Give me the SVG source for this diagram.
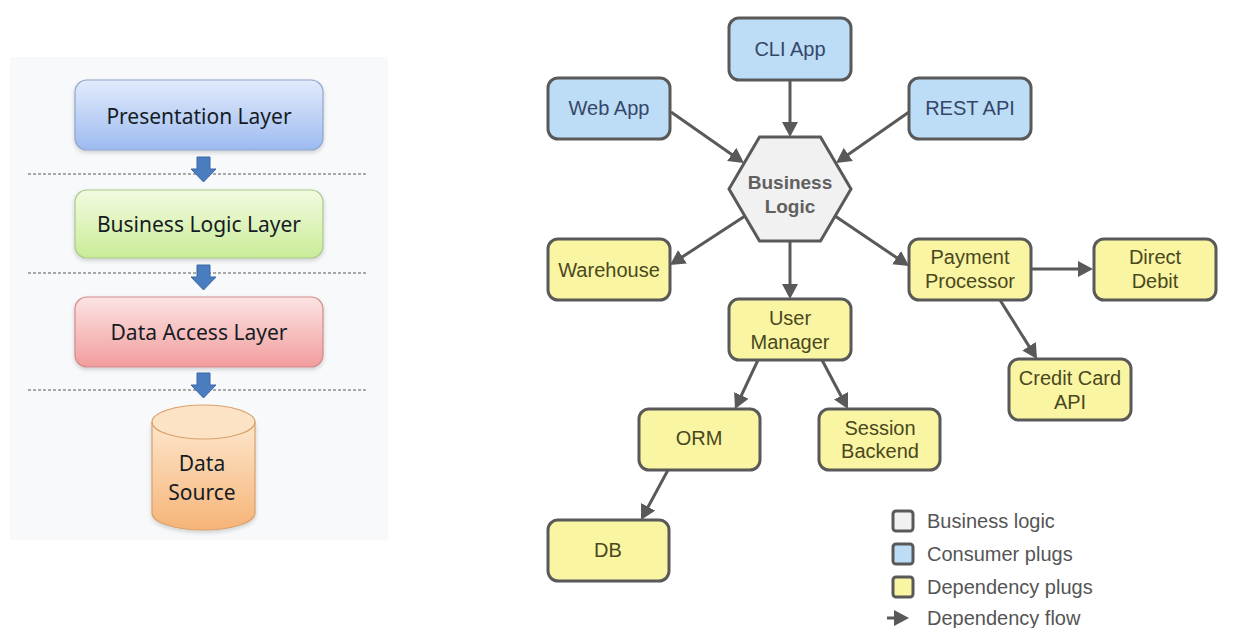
<svg xmlns="http://www.w3.org/2000/svg" width="1248" height="628" viewBox="0 0 1248 628">
  <defs>
    <linearGradient id="gBlue" x1="0" y1="0" x2="0" y2="1">
      <stop offset="0" stop-color="#e2ebfc"/>
      <stop offset="1" stop-color="#9dbbf0"/>
    </linearGradient>
    <linearGradient id="gGreen" x1="0" y1="0" x2="0" y2="1">
      <stop offset="0" stop-color="#f3fbe0"/>
      <stop offset="1" stop-color="#c9ec98"/>
    </linearGradient>
    <linearGradient id="gRed" x1="0" y1="0" x2="0" y2="1">
      <stop offset="0" stop-color="#fce4e4"/>
      <stop offset="1" stop-color="#f29c9c"/>
    </linearGradient>
    <linearGradient id="gOrange" x1="0" y1="0" x2="0" y2="1">
      <stop offset="0" stop-color="#fde6cc"/>
      <stop offset="1" stop-color="#f6b477"/>
    </linearGradient>
    <filter id="soft" x="-10%" y="-10%" width="120%" height="130%">
      <feDropShadow dx="0" dy="2" stdDeviation="2" flood-color="#000" flood-opacity="0.18"/>
    </filter>
    <marker id="head" viewBox="0 0 15 16" refX="11" refY="8" markerWidth="15" markerHeight="16" markerUnits="userSpaceOnUse" orient="auto">
      <path d="M0,0 L15,8 L0,16 z" fill="#595959"/>
    </marker>
  </defs>
  <style>
    .layer { stroke-width: 1.2; }
    .ltxt { font-family: "Noto Sans", "Open Sans", sans-serif; font-size: 21px; fill: #161c24; text-anchor: middle; }
    .sep { stroke: #8c8c8c; stroke-width: 1.5; stroke-dasharray: 3 2; }
    .blk { fill: #4a7cc0; stroke: #3a66a3; stroke-width: 1; }
    .box { stroke: #595959; stroke-width: 3; }
    .consumer { fill: #bddcf5; }
    .dep { fill: #f9f5a2; }
    .core { fill: #f1f1f1; stroke: #595959; stroke-width: 3; }
    .t { font-family: "Liberation Sans", Arial, sans-serif; font-size: 20px; text-anchor: middle; }
    .tc { fill: #34476a; }
    .td { fill: #4a4820; }
    .th { fill: #606060; font-weight: bold; font-size: 19px; }
    .link { stroke: #595959; stroke-width: 3; fill: none; marker-end: url(#head); }
    .leg { font-family: "Liberation Sans", Arial, sans-serif; font-size: 20px; fill: #555; }
  </style>

  <rect width="1248" height="628" fill="#ffffff"/>

  <!-- Layered architecture panel -->
  <g id="layered">
    <rect x="10" y="57" width="378" height="483" fill="#f8f9fb"/>
    <line class="sep" x1="28" y1="174" x2="368" y2="174"/>
    <line class="sep" x1="28" y1="273" x2="368" y2="273"/>
    <line class="sep" x1="28" y1="390" x2="368" y2="390"/>

    <g id="presentation-layer">
      <rect class="layer" x="75" y="80" width="248" height="70" rx="12" fill="url(#gBlue)" stroke="#8ea6cc" filter="url(#soft)"/>
      <text class="ltxt" x="199" y="124">Presentation Layer</text>
    </g>
    <g id="business-logic-layer">
      <rect class="layer" x="75" y="190" width="248" height="68" rx="12" fill="url(#gGreen)" stroke="#a9c98a" filter="url(#soft)"/>
      <text class="ltxt" x="199" y="232">Business Logic Layer</text>
    </g>
    <g id="data-access-layer">
      <rect class="layer" x="75" y="297" width="248" height="70" rx="12" fill="url(#gRed)" stroke="#d08a8a" filter="url(#soft)"/>
      <text class="ltxt" x="199" y="340">Data Access Layer</text>
    </g>
    <g id="data-source">
      <path d="M152,422 L152,513 A51.5,17 0 0 0 255,513 L255,422" fill="url(#gOrange)" stroke="#d9a06a" stroke-width="1.2" filter="url(#soft)"/>
      <ellipse cx="203.5" cy="422" rx="51.5" ry="17" fill="#fde3c6" stroke="#d9a06a" stroke-width="1.2"/>
      <text class="ltxt" x="202" y="471">Data</text>
      <text class="ltxt" x="202" y="500">Source</text>
    </g>

    <g id="layer-arrows">
      <path class="blk" d="M197,157 H210 V169 H216 L203.5,182 L191,169 H197 Z"/>
      <path class="blk" d="M197,265 H210 V277 H216 L203.5,290 L191,277 H197 Z"/>
      <path class="blk" d="M197,373 H210 V385 H216 L203.5,398 L191,385 H197 Z"/>
    </g>
  </g>

  <!-- Plug architecture graph -->
  <g id="connectors">
    <line class="link" x1="790" y1="80" x2="790" y2="133"/>
    <line class="link" x1="671" y1="112" x2="740.7" y2="160.7"/>
    <line class="link" x1="909" y1="112" x2="839.3" y2="160.7"/>
    <line class="link" x1="745" y1="216" x2="673.3" y2="262.8"/>
    <line class="link" x1="790" y1="242" x2="790" y2="295"/>
    <line class="link" x1="835" y1="216" x2="905.7" y2="263.8"/>
    <line class="link" x1="1031" y1="269" x2="1089" y2="269"/>
    <line class="link" x1="1000" y1="300" x2="1034.9" y2="355.6"/>
    <line class="link" x1="758" y1="360" x2="736.7" y2="405.4"/>
    <line class="link" x1="822" y1="360" x2="846.1" y2="405.5"/>
    <line class="link" x1="668" y1="470" x2="642.9" y2="516.5"/>
  </g>

  <g id="cli-app">
    <rect class="box consumer" x="729" y="18" width="122" height="62" rx="10"/>
    <text class="t tc" x="790" y="56">CLI App</text>
  </g>
  <g id="web-app">
    <rect class="box consumer" x="548" y="78" width="122" height="61" rx="10"/>
    <text class="t tc" x="609" y="115">Web App</text>
  </g>
  <g id="rest-api">
    <rect class="box consumer" x="909" y="78" width="122" height="61" rx="10"/>
    <text class="t tc" x="970" y="115">REST API</text>
  </g>

  <g id="business-logic">
    <polygon class="core" points="729,189 759.5,137 820.5,137 851,189 820.5,241 759.5,241"/>
    <text class="t th" x="790" y="189">Business</text>
    <text class="t th" x="790" y="213">Logic</text>
  </g>

  <g id="warehouse">
    <rect class="box dep" x="548" y="239" width="122" height="61" rx="10"/>
    <text class="t td" x="609" y="277">Warehouse</text>
  </g>
  <g id="user-manager">
    <rect class="box dep" x="729" y="299" width="122" height="61" rx="10"/>
    <text class="t td" x="790" y="325">User</text>
    <text class="t td" x="790" y="349">Manager</text>
  </g>
  <g id="payment-processor">
    <rect class="box dep" x="909" y="239" width="122" height="61" rx="10"/>
    <text class="t td" x="970" y="264">Payment</text>
    <text class="t td" x="970" y="288">Processor</text>
  </g>
  <g id="direct-debit">
    <rect class="box dep" x="1094" y="239" width="122" height="61" rx="10"/>
    <text class="t td" x="1155" y="264">Direct</text>
    <text class="t td" x="1155" y="288">Debit</text>
  </g>
  <g id="credit-card-api">
    <rect class="box dep" x="1009" y="359" width="122" height="61" rx="10"/>
    <text class="t td" x="1070" y="385">Credit Card</text>
    <text class="t td" x="1070" y="409">API</text>
  </g>
  <g id="orm">
    <rect class="box dep" x="639" y="409" width="121" height="61" rx="10"/>
    <text class="t td" x="699" y="445">ORM</text>
  </g>
  <g id="session-backend">
    <rect class="box dep" x="819" y="409" width="121" height="61" rx="10"/>
    <text class="t td" x="880" y="435">Session</text>
    <text class="t td" x="880" y="458">Backend</text>
  </g>
  <g id="db">
    <rect class="box dep" x="548" y="520" width="121" height="61" rx="10"/>
    <text class="t td" x="608" y="557">DB</text>
  </g>

  <g id="legend">
    <rect class="core" x="893" y="511" width="20" height="20" rx="3"/>
    <text class="leg" x="927" y="528">Business logic</text>
    <rect class="box consumer" x="893" y="544" width="20" height="20" rx="3"/>
    <text class="leg" x="927" y="561">Consumer plugs</text>
    <rect class="box dep" x="893" y="577" width="20" height="20" rx="3"/>
    <text class="leg" x="927" y="594">Dependency plugs</text>
    <line class="link" x1="887" y1="618" x2="905" y2="618"/>
    <text class="leg" x="927" y="625">Dependency flow</text>
  </g>
</svg>
